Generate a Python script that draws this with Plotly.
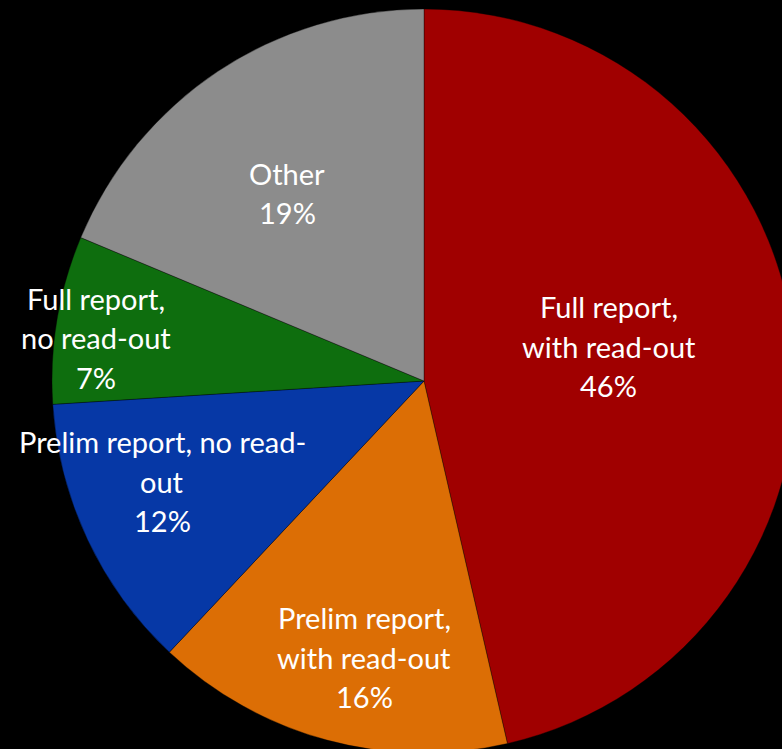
import math
import plotly.graph_objects as go

# ---- data ----
labels = ["Full report, with read-out", "Prelim report, with read-out",
          "Prelim report, no read-out", "Full report, no read-out", "Other"]
values = [46.4, 15.6, 12.0, 7.3, 18.7]
label_lines = [["Full report,", "with read-out"],
               ["Prelim report,", "with read-out"],
               ["Prelim report, no read-", "out"],
               ["Full report,", "no read-out"],
               ["Other"]]
colors = ["#A00000", "#DC6E05", "#0638A6", "#0E6E0E", "#8C8C8C"]

# label placement styles (fraction of radius, angular offset in degrees)
label_rfrac = [0.505, 0.76, 0.753, 0.89, 0.625]
label_dtheta = [-4.2, -2.9, 4.2, -2.0, -2.3]

W, H = 848, 762
pie_px = 744
dy = (1 - pie_px / H) / 2
dom_y = [dy, 1 - dy]

fig = go.Figure()
fig.add_trace(go.Pie(
    labels=labels, values=values, sort=False, direction="clockwise", rotation=0,
    textinfo="none", hoverinfo="label+percent",
    marker=dict(colors=colors, line=dict(color="rgba(0,0,0,0.35)", width=1)),
    domain=dict(x=[0, 1], y=dom_y), showlegend=False,
))

# geometry of the pie (same as plotly's own computation)
cx = W / 2
cy = H / 2
r = min(W, pie_px) / 2
total = sum(values)
LINE_H = 39.5
annotations = []
cum = 0.0
for i, v in enumerate(values):
    mid = (cum + v / 2) / total * 360 + label_dtheta[i]
    cum += v
    th = math.radians(mid)
    px = cx + r * label_rfrac[i] * math.sin(th)
    py = cy - r * label_rfrac[i] * math.cos(th)
    lines = label_lines[i] + [f"{round(v / total * 100)}%"]
    n = len(lines)
    for j, t in enumerate(lines):
        off = (j - (n - 1) / 2) * LINE_H
        annotations.append(dict(
            x=px / W, y=1 - (py + off) / H, xref="paper", yref="paper",
            text=t, showarrow=False, xanchor="center", yanchor="middle",
            font=dict(family="Lato", size=29, color="white"),
        ))

fig.update_layout(
    width=W, height=H, margin=dict(l=0, r=0, t=0, b=0, pad=0),
    paper_bgcolor="black", plot_bgcolor="black",
    annotations=annotations,
)

fig.write_html(
    "out.html",
    post_script="document.body.style.margin='0';document.body.style.overflow='hidden';"
                "document.documentElement.style.overflow='hidden';",
)
